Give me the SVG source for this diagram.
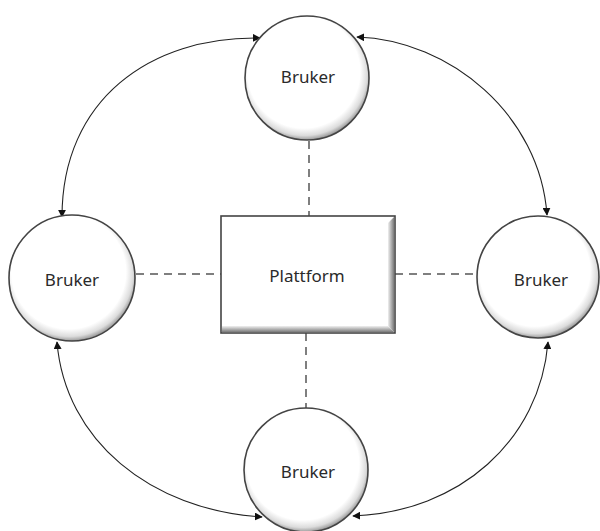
<svg xmlns="http://www.w3.org/2000/svg" width="600" height="531" viewBox="0 0 600 531">
<defs>
<radialGradient id="cg" cx="0.48" cy="0.46" r="0.54" fx="0.44" fy="0.4">
<stop offset="0" stop-color="#ffffff"/>
<stop offset="0.84" stop-color="#ffffff"/>
<stop offset="0.94" stop-color="#dcdcdc"/>
<stop offset="1" stop-color="#9a9a9a"/>
</radialGradient>
<linearGradient id="bevR" x1="0" y1="0" x2="1" y2="0">
<stop offset="0" stop-color="#f0f0f0"/>
<stop offset="1" stop-color="#7a7a7a"/>
</linearGradient>
<linearGradient id="bevB" x1="0" y1="0" x2="0" y2="1">
<stop offset="0" stop-color="#f0f0f0"/>
<stop offset="1" stop-color="#7a7a7a"/>
</linearGradient>
<marker id="ah" viewBox="0 0 10 10" refX="9" refY="5" markerWidth="8" markerHeight="8" markerUnits="userSpaceOnUse" orient="auto-start-reverse">
<path d="M0,0 L10,5 L0,10 z" fill="#111"/>
</marker>
<style>
.node{fill:url(#cg);stroke:#444;stroke-width:1.6}
.lbl{font-family:"Noto Sans","Open Sans",sans-serif;font-size:17px;fill:#2a2a2a;text-anchor:middle}
.dash{stroke:#555;stroke-width:1.5;stroke-dasharray:8 6;fill:none}
.arc{stroke:#222;stroke-width:1.1;fill:none;marker-start:url(#ah);marker-end:url(#ah)}
</style>
</defs>
<rect width="600" height="531" fill="#fff"/>
<g id="connectors">
<line class="dash" x1="309" y1="141" x2="309" y2="216"/>
<line class="dash" x1="306" y1="333" x2="306" y2="408"/>
<line class="dash" x1="136" y1="274" x2="221" y2="274"/>
<line class="dash" x1="395" y1="274" x2="477" y2="274"/>
<path class="arc" d="M260 38 C150 36,62 100,62 217"/>
<path class="arc" d="M357 37 C450 40,540 115,547 215"/>
<path class="arc" d="M57 342 C65 440,150 510,262 517"/>
<path class="arc" d="M548 342 C540 440,460 512,353 516"/>
</g>
<g id="platform">
<rect x="221" y="216" width="174" height="117" fill="#fff" stroke="#444" stroke-width="1.6"/>
<polygon points="388,223 394,217 394,332 388,326" fill="url(#bevR)"/>
<polygon points="222,326 388,326 394,332 222,332" fill="url(#bevB)"/>
<text class="lbl" x="307" y="282">Plattform</text>
</g>
<g id="bruker-top">
<circle class="node" cx="307" cy="78" r="62"/>
<text class="lbl" x="308" y="83">Bruker</text>
</g>
<g id="bruker-left">
<circle class="node" cx="72" cy="278" r="63"/>
<text class="lbl" x="72" y="286">Bruker</text>
</g>
<g id="bruker-right">
<circle class="node" cx="538" cy="277" r="61"/>
<text class="lbl" x="541" y="286">Bruker</text>
</g>
<g id="bruker-bottom">
<circle class="node" cx="306" cy="470" r="62"/>
<text class="lbl" x="308" y="478">Bruker</text>
</g>
</svg>
